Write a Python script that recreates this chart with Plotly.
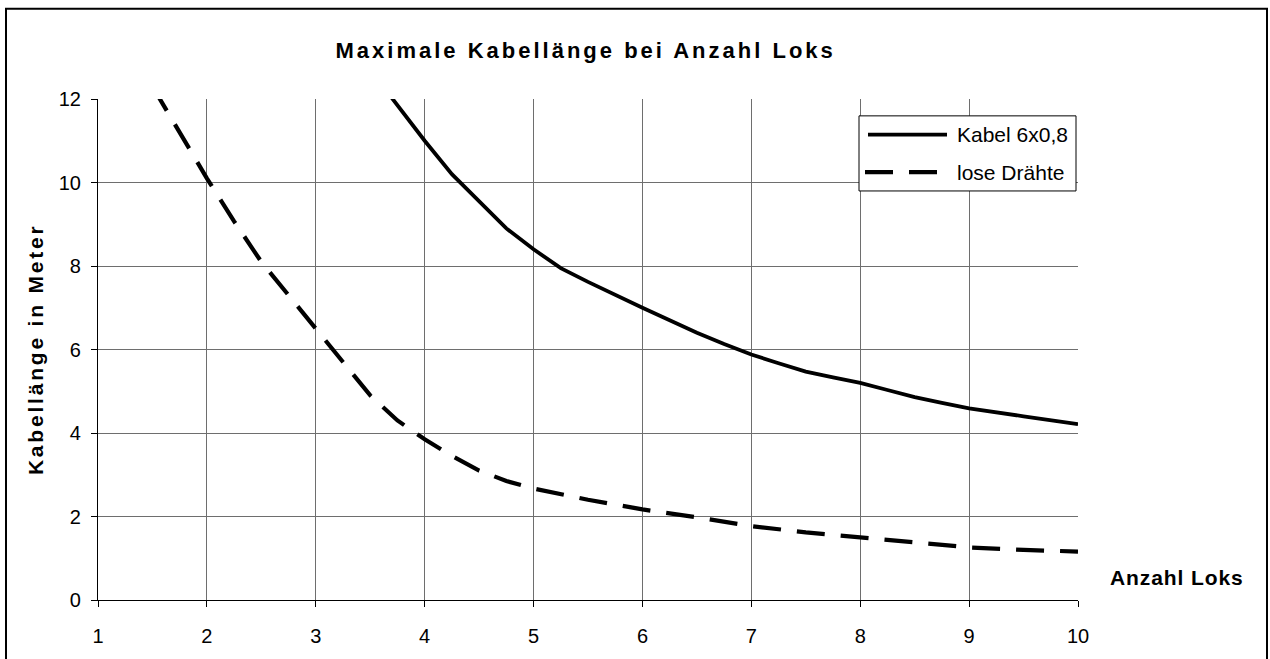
import plotly.graph_objects as go

# ---- data ----
x_kabel = [3.5, 3.75, 4, 4.25, 4.5, 4.75, 5, 5.25, 5.5, 5.75, 6, 6.25, 6.5, 6.75,
           7, 7.25, 7.5, 7.75, 8, 8.25, 8.5, 8.75, 9, 9.5, 10]
y_kabel = [12.7, 11.85, 11.0, 10.2, 9.55, 8.9, 8.4, 7.95, 7.62, 7.3, 7.0, 6.7, 6.4, 6.13,
           5.88, 5.67, 5.47, 5.33, 5.2, 5.03, 4.86, 4.72, 4.59, 4.4, 4.21]

x_lose = [1.5, 1.75, 2, 2.25, 2.5, 2.75, 3, 3.25, 3.5, 3.75, 4, 4.25, 4.5, 4.75, 5,
          5.5, 6, 6.5, 7, 7.5, 8, 8.5, 9, 9.5, 10]
y_lose = [12.3, 11.2, 10.1, 9.07, 8.1, 7.3, 6.5, 5.7, 4.9, 4.3, 3.85, 3.45, 3.1, 2.85, 2.67,
          2.4, 2.17, 1.98, 1.77, 1.62, 1.5, 1.36, 1.26, 1.2, 1.16]

series_names = ["Kabel 6x0,8", "lose Drähte"]
x_ticks = [1, 2, 3, 4, 5, 6, 7, 8, 9, 10]
y_ticks = [0, 2, 4, 6, 8, 10, 12]

title_text = "Maximale Kabellänge bei Anzahl Loks"
y_title = "Kabellänge in Meter"
x_title = "Anzahl Loks"

FONT = "Liberation Sans, Arial, sans-serif"

W, H = 1270, 659
L, R, T, B = 98, 192, 99, 55
PW, PH = W - L - R, H - T - B


def px(xp):
    return (xp - L) / PW


def py(yp):
    return (H - B - yp) / PH


fig = go.Figure()
fig.add_trace(go.Scatter(x=x_kabel, y=y_kabel, mode="lines", name=series_names[0],
                         line=dict(color="black", width=3.8), showlegend=False))
fig.add_trace(go.Scatter(x=x_lose, y=y_lose, mode="lines", name=series_names[1],
                         line=dict(color="black", width=4.2, dash="28px,16px"), showlegend=False))

axis_common = dict(showgrid=True, gridcolor="#6e6e6e", gridwidth=1, showline=True,
                   linecolor="black", linewidth=1.2, ticks="outside", ticklen=6,
                   tickcolor="black", tickfont=dict(family=FONT, size=20, color="black"),
                   zeroline=False, fixedrange=True)

fig.update_xaxes(range=[1, 10], tickvals=x_ticks, ticklabelstandoff=12, **axis_common)
fig.update_yaxes(range=[0, 12], tickvals=y_ticks, ticklabelstandoff=6, **axis_common)

shapes = [
    # outer chart frame
    dict(type="rect", xref="paper", yref="paper", x0=px(6), x1=px(1267), y0=py(690), y1=py(8),
         line=dict(color="black", width=2), fillcolor="rgba(0,0,0,0)", layer="above"),
    # legend box
    dict(type="rect", xref="paper", yref="paper", x0=px(859), x1=px(1076), y0=py(191.7), y1=py(116),
         line=dict(color="black", width=1), fillcolor="white", layer="above"),
    dict(type="line", xref="paper", yref="paper", x0=px(868), x1=px(947), y0=py(135), y1=py(135),
         line=dict(color="black", width=3.8), layer="above"),
    dict(type="line", xref="paper", yref="paper", x0=px(865), x1=px(938), y0=py(172.7), y1=py(172.7),
         line=dict(color="black", width=4.2, dash="28px,16px"), layer="above"),
]

annotations = [
    dict(text=title_text, x=px(585), y=py(50.5), xref="paper", yref="paper",
         xanchor="center", yanchor="middle", showarrow=False,
         font=dict(family=FONT, size=22, color="black", weight="bold")),
    dict(text=y_title, x=px(35), y=0.5, xref="paper", yref="paper", textangle=-90,
         xanchor="center", yanchor="middle", showarrow=False,
         font=dict(family=FONT, size=21, color="black", weight="bold")),
    dict(text=x_title, x=px(1176.5), y=py(581.5), xref="paper", yref="paper",
         xanchor="center", yanchor="middle", showarrow=False,
         font=dict(family=FONT, size=21, color="black", weight="bold")),
    dict(text=series_names[0], x=px(955), y=py(135), xref="paper", yref="paper",
         xanchor="left", yanchor="middle", showarrow=False,
         font=dict(family=FONT, size=21, color="black")),
    dict(text=series_names[1], x=px(955), y=py(172.7), xref="paper", yref="paper",
         xanchor="left", yanchor="middle", showarrow=False,
         font=dict(family=FONT, size=21, color="black")),
]

fig.update_layout(width=W, height=H, margin=dict(l=L, r=R, t=T, b=B),
                  paper_bgcolor="white", plot_bgcolor="white",
                  shapes=shapes, annotations=annotations, showlegend=False,
                  font=dict(family=FONT, color="black"))

post = """
document.body.style.margin = '0';
var gd = document.getElementById('{plot_id}');
var sp = {};
sp['Maximale Kabellänge bei Anzahl Loks'] = '3.0px';
sp['Kabellänge in Meter'] = '2.8px';
sp['Anzahl Loks'] = '0.9px';
gd.querySelectorAll('.annotation-text').forEach(function(t){
  var s = sp[t.textContent];
  if (s) { t.style.letterSpacing = s; }
});
"""

fig.write_html("out.html", post_script=post, config={"displayModeBar": False})
